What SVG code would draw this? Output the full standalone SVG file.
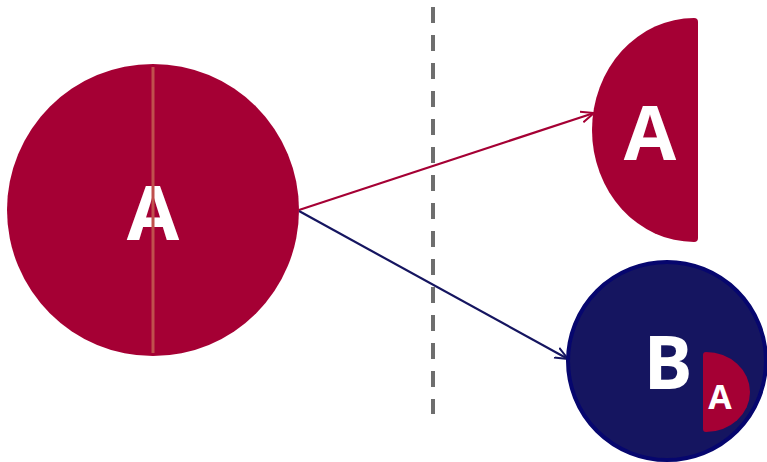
<svg xmlns="http://www.w3.org/2000/svg" width="767" height="462" viewBox="0 0 767 462">
<style>
.lbl{font-family:"Open Sans","Liberation Sans",sans-serif;font-weight:bold;fill:#ffffff;text-anchor:middle}
.red{fill:#a50034}
.conn{fill:none;stroke-width:2.2}
</style>
<defs>
<marker id="ahR" viewBox="0 0 14 14" refX="13" refY="7" markerWidth="14" markerHeight="14" markerUnits="userSpaceOnUse" orient="auto">
<path d="M0,1.5 L13,7 L0,12.5" fill="none" stroke="#a50034" stroke-width="2"/>
</marker>
<marker id="ahB" viewBox="0 0 14 14" refX="13" refY="7" markerWidth="14" markerHeight="14" markerUnits="userSpaceOnUse" orient="auto">
<path d="M0,1.5 L13,7 L0,12.5" fill="none" stroke="#151560" stroke-width="2"/>
</marker>
</defs>
<line x1="433" y1="7" x2="433" y2="414" stroke="#6e6e6e" stroke-width="4" stroke-dasharray="16 12"/>
<g id="connectors">
<line class="conn" x1="299" y1="210" x2="594" y2="113" stroke="#a50034" marker-end="url(#ahR)"/>
<line class="conn" x1="299" y1="211" x2="568" y2="359" stroke="#151560" marker-end="url(#ahB)"/>
</g>
<g id="nodeA">
<circle class="red" cx="153" cy="210" r="146"/>
<text class="lbl" x="153" y="240" font-size="76">A</text>
<line x1="153" y1="67" x2="153" y2="353" stroke="#c0504d" stroke-width="3"/>
</g>
<g id="nodeAhalf">
<path class="red" d="M694,18 Q698,18 698,22 L698,238 Q698,242 694,242 A102,112 0 0 1 694,18 Z"/>
<text class="lbl" x="650" y="160" font-size="76">A</text>
</g>
<g id="nodeB">
<circle cx="667" cy="361" r="99" fill="#151560" stroke="#06066e" stroke-width="4"/>
<text class="lbl" x="668" y="389" font-size="73">B</text>
<path class="red" d="M706,352 A44,40 0 0 1 706,432 Q703,432 703,429 L703,355 Q703,352 706,352 Z"/>
<text class="lbl" x="720" y="409" font-size="34">A</text>
</g>
</svg>
